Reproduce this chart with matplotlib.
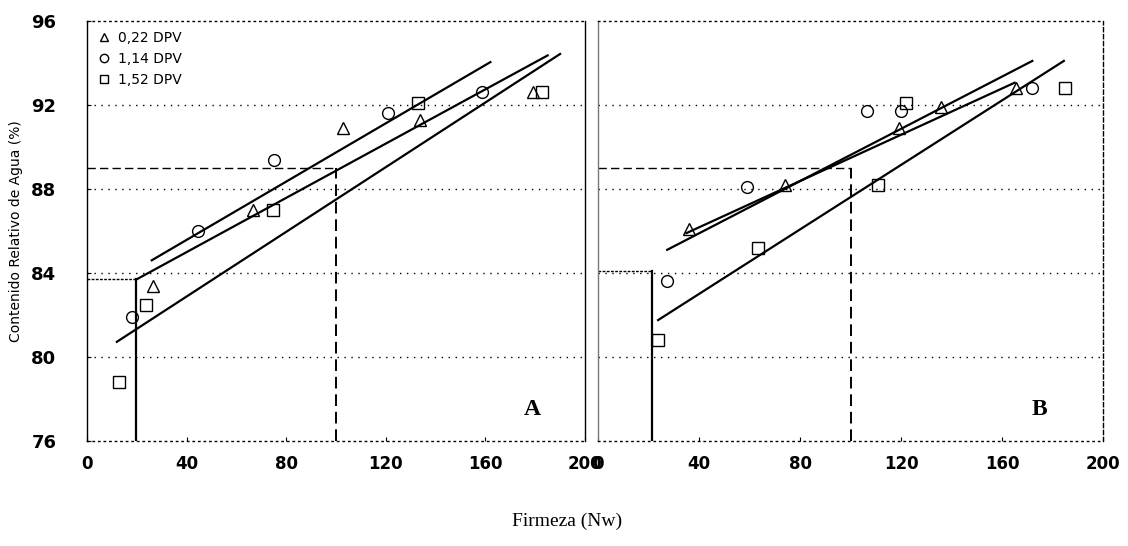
import matplotlib
matplotlib.use("Agg")
import matplotlib.pyplot as plt
from matplotlib.lines import Line2D

# ---------------- data ----------------
series_labels = ["0,22 DPV", "1,14 DPV", "1,52 DPV"]

# Panel A
a_tri_x = [26.5, 66.7, 102.8, 133.7, 179.0]
a_tri_y = [83.4, 87.0, 90.9, 91.3, 92.6]
a_cir_x = [18.0, 44.6, 75.0, 121.0, 158.6]
a_cir_y = [81.9, 86.0, 89.4, 91.6, 92.6]
a_sq_x = [13.0, 23.7, 74.7, 133.0, 182.7]
a_sq_y = [78.8, 82.5, 87.0, 92.1, 92.6]
# regression lines: (x_start, x_end, intercept, slope)
a_lines = [(20.0, 185.0, 82.41, 0.0646),
           (26.0, 162.0, 82.80, 0.0694),
           (12.0, 190.0, 79.80, 0.0770)]
a_ref_x = [19.5, 100.0]
a_ref_y = [83.7, 89.0]

# Panel B
b_tri_x = [36.0, 74.0, 119.4, 136.0, 165.5]
b_tri_y = [86.1, 88.2, 90.9, 91.9, 92.8]
b_cir_x = [27.4, 59.0, 106.7, 120.0, 172.0]
b_cir_y = [83.6, 88.1, 91.7, 91.7, 92.8]
b_sq_x = [23.8, 63.5, 110.7, 122.0, 185.0]
b_sq_y = [80.8, 85.2, 88.2, 92.1, 92.8]
b_lines = [(35.0, 165.0, 83.97, 0.0551),
           (27.4, 172.0, 83.40, 0.0622),
           (23.8, 184.5, 79.93, 0.0768)]
b_ref_x = [21.5, 100.0]
b_ref_y = [84.1, 89.0]

x_ticks = [0, 40, 80, 120, 160, 200]
y_ticks = [76, 80, 84, 88, 92, 96]
grid_y = [80, 84, 88, 92]

# ---------------- figure ----------------
fig = plt.figure(figsize=(11.28, 5.46), dpi=100)
axA = fig.add_axes([87/1128, 105/546, 498/1128, 420/546])
axB = fig.add_axes([598/1128, 105/546, 505/1128, 420/546])

mk = dict(linestyle="none", markerfacecolor="none", markeredgecolor="black",
          markeredgewidth=1.0, markersize=8.5)


def draw_panel(ax, tx, ty, cx, cy, sx, sy, lines, ref_x, ref_y, letter, letter_x, letter_pos):
    ax.set_xlim(0, 200)
    ax.set_ylim(76, 96)
    for g in grid_y:
        ax.axhline(g, color="black", linestyle=(0, (1, 4)), linewidth=1.0, zorder=1)
    ax.plot(tx, ty, marker="^", **mk, zorder=3)
    ax.plot(cx, cy, marker="o", **mk, zorder=3)
    ax.plot(sx, sy, marker="s", **mk, zorder=3)
    for (x0, x1, b, m) in lines:
        ax.plot([x0, x1], [b + m * x0, b + m * x1], color="black", linewidth=1.6, zorder=2)
    # reference lines
    ax.plot([ref_x[1], ref_x[1]], [76, ref_y[1]], color="black", linestyle=(0, (6, 3)), linewidth=1.4)
    ax.plot([0, ref_x[1]], [ref_y[1], ref_y[1]], color="black", linestyle=(0, (6, 3)), linewidth=1.0)
    ax.plot([ref_x[0], ref_x[0]], [76, ref_y[0]], color="black", linewidth=1.6)
    ax.plot([0, ref_x[0]], [ref_y[0], ref_y[0]], color="black", linestyle=(0, (2, 1)), linewidth=1.0)
    ax.text(letter_x, letter_pos, letter, fontsize=17, fontweight="bold",
            family="Liberation Serif", ha="center", va="center")
    ax.set_xticks(x_ticks)
    ax.set_yticks(y_ticks)
    ax.tick_params(axis="both", direction="in", length=3, width=0.8)
    for lab in ax.get_xticklabels():
        lab.set_fontweight("bold")
        lab.set_fontsize(12)
    ax.spines["top"].set_linestyle((0, (1, 3)))
    ax.spines["bottom"].set_linestyle((0, (1, 3)))
    for s in ax.spines.values():
        s.set_linewidth(1.0)


draw_panel(axA, a_tri_x, a_tri_y, a_cir_x, a_cir_y, a_sq_x, a_sq_y, a_lines,
           a_ref_x, a_ref_y, "A", 179, 77.5)
draw_panel(axB, b_tri_x, b_tri_y, b_cir_x, b_cir_y, b_sq_x, b_sq_y, b_lines,
           b_ref_x, b_ref_y, "B", 175, 77.5)

axA.tick_params(axis="x", pad=10)
axB.tick_params(axis="x", pad=10)
axA.tick_params(axis="y", pad=22)
for lab in axA.get_yticklabels():
    lab.set_fontweight("bold")
    lab.set_fontsize(13)
axB.set_yticklabels([])
axB.tick_params(axis="y", length=0)
axB.spines["left"].set_color("#777777")
axB.spines["right"].set_linestyle((0, (3, 2)))

# legend
handles = [Line2D([], [], marker=m, **mk) for m in ["^", "o", "s"]]
for h in handles:
    h.set_markersize(6)
axA.legend(handles, series_labels, loc="upper left", frameon=False, fontsize=10,
           handletextpad=0.5, handlelength=1.0, borderaxespad=0.3, labelspacing=0.5)

axA.set_ylabel("Contenido Relativo de Agua (%)", fontsize=10, labelpad=6)
fig.text(567/1128, 1 - 521/546, "Firmeza (Nw)", ha="center", va="center",
         fontsize=14, family="Liberation Serif")

fig.savefig("out.png", dpi=100)
